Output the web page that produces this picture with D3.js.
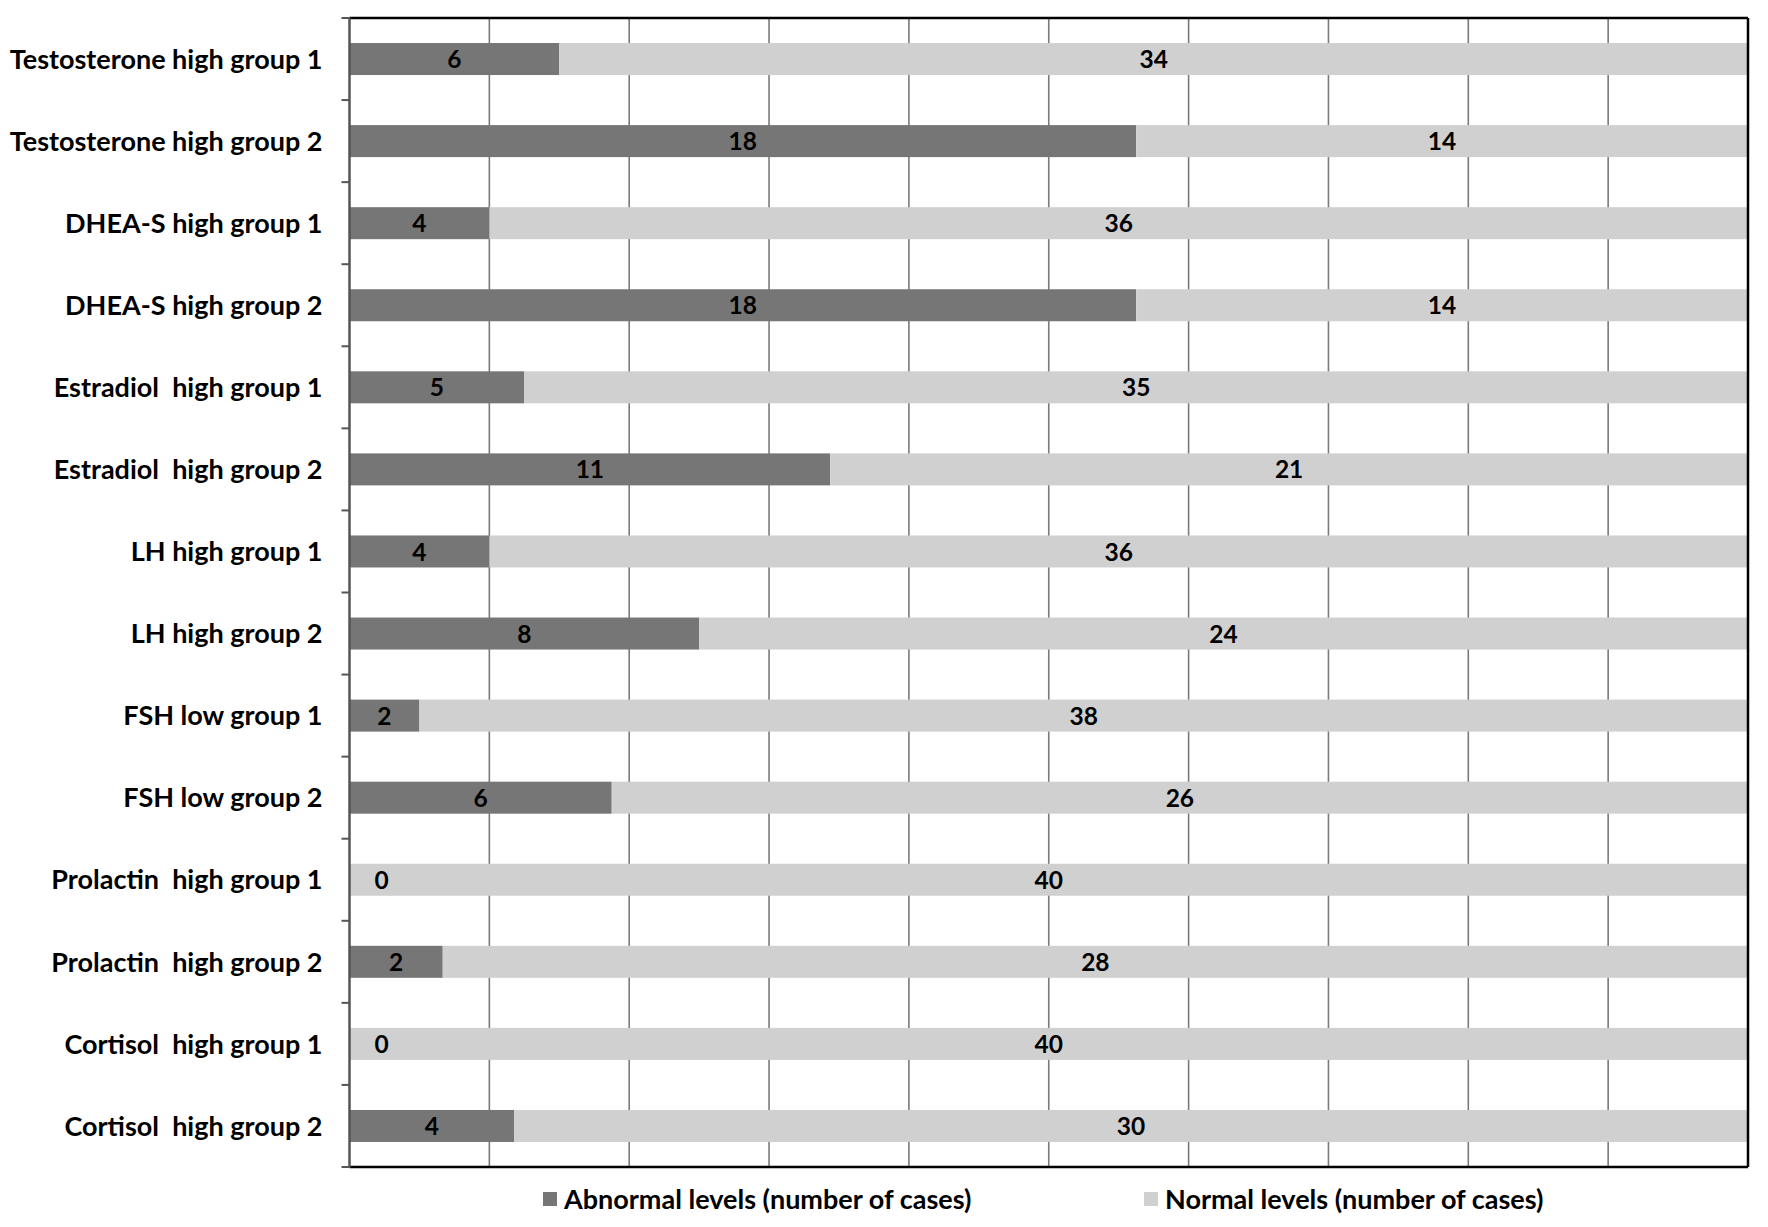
<!DOCTYPE html>
<html><head><meta charset="utf-8">
<script src="https://cdn.jsdelivr.net/npm/d3@7"></script>
<style>body{margin:0;background:#fff} text{font-family:Lato,"Open Sans",sans-serif;font-weight:700;white-space:pre}</style>
</head><body><svg id="c" width="1768" height="1227"></svg>
<script>
const categories = ["Testosterone high group 1","Testosterone high group 2","DHEA-S high group 1","DHEA-S high group 2","Estradiol  high group 1","Estradiol  high group 2","LH high group 1","LH high group 2","FSH low group 1","FSH low group 2","Prolactin  high group 1","Prolactin  high group 2","Cortisol  high group 1","Cortisol  high group 2"];
const abnormal = [6,18,4,18,5,11,4,8,2,6,0,2,0,4];
const normal = [34,14,36,14,35,21,36,24,38,26,40,28,40,30];
const seriesNames = ["Abnormal levels (number of cases)","Normal levels (number of cases)"];
const xTicks = [0,0.1,0.2,0.3,0.4,0.5,0.6,0.7,0.8,0.9,1];

const colors = ["#767676","#d0d0d0"];
const svg = d3.select("#c");
const m = {l:349.5, r:20, t:18, b:60};
const W = 1768 - m.l - m.r, H = 1227 - m.t - m.b;
const g = svg.append("g").attr("transform",`translate(${m.l},${m.t})`);

const x = d3.scaleLinear().domain([0,1]).range([0,W]);
const y = d3.scaleBand().domain(categories).range([0,H]).paddingInner(0.61).paddingOuter(0.305);

// gridlines
g.selectAll("line.grid").data(xTicks.slice(1,-1)).join("line")
  .attr("x1",d=>x(d)).attr("x2",d=>x(d)).attr("y1",0).attr("y2",H)
  .attr("stroke","#7a7a7a").attr("stroke-width",1.6);

const rows = categories.map((c,i)=>{
  const tot = abnormal[i]+normal[i];
  return {c, vals:[abnormal[i],normal[i]], p0:abnormal[i]/tot};
});

const rg = g.selectAll("g.row").data(rows).join("g").attr("transform",d=>`translate(0,${y(d.c)})`);
rg.each(function(d){
  const s = d3.select(this);
  const segs = [{x0:0,x1:d.p0,v:d.vals[0],k:0},{x0:d.p0,x1:1,v:d.vals[1],k:1}];
  s.selectAll("rect").data(segs).join("rect")
    .attr("x",e=>x(e.x0)).attr("width",e=>x(e.x1)-x(e.x0))
    .attr("y",0).attr("height",y.bandwidth()).attr("fill",e=>colors[e.k]);
  s.selectAll("text").data(segs).join("text")
    .attr("x",e=>Math.max(32,(x(e.x0)+x(e.x1))/2))
    .attr("y",y.bandwidth()/2).attr("dy","0.37em")
    .attr("text-anchor","middle").attr("font-size",24.5).attr("fill","#000")
    .text(e=>e.v);
});

// borders
g.append("line").attr("x1",0).attr("x2",W).attr("y1",0).attr("y2",0).attr("stroke","#000").attr("stroke-width",2.5);
g.append("line").attr("x1",W).attr("x2",W).attr("y1",0).attr("y2",H).attr("stroke","#000").attr("stroke-width",2.5);
g.append("line").attr("x1",0).attr("x2",W).attr("y1",H).attr("y2",H).attr("stroke","#000").attr("stroke-width",2.5);

// left axis
const yAxis = d3.axisLeft(y).tickSize(0).tickPadding(0);
const ax = g.append("g").call(yAxis);
ax.select(".domain").remove();
ax.selectAll("text").attr("x",-27).attr("dy","0.36em").attr("font-size",27).attr("fill","#000").style("font-family","Lato,'Open Sans',sans-serif").style("font-weight",700);
g.append("line").attr("x1",0).attr("x2",0).attr("y1",0).attr("y2",H).attr("stroke","#555").attr("stroke-width",2.5);
const bounds = d3.range(categories.length+1).map(i=>i*y.step());
g.selectAll("line.tk").data(bounds).join("line")
  .attr("x1",-8).attr("x2",0).attr("y1",d=>d).attr("y2",d=>d)
  .attr("stroke","#555").attr("stroke-width",2);

// legend
const lg = svg.append("g").attr("transform",`translate(0,${1199})`);
const lx = [543, 1144];
seriesNames.forEach((n,i)=>{
  lg.append("rect").attr("x",lx[i]).attr("y",-7).attr("width",14).attr("height",14).attr("fill",colors[i]);
  lg.append("text").attr("x",lx[i]+21).attr("y",0).attr("dy","0.36em").attr("font-size",27).attr("fill","#000").text(n);
});
</script></body></html>
